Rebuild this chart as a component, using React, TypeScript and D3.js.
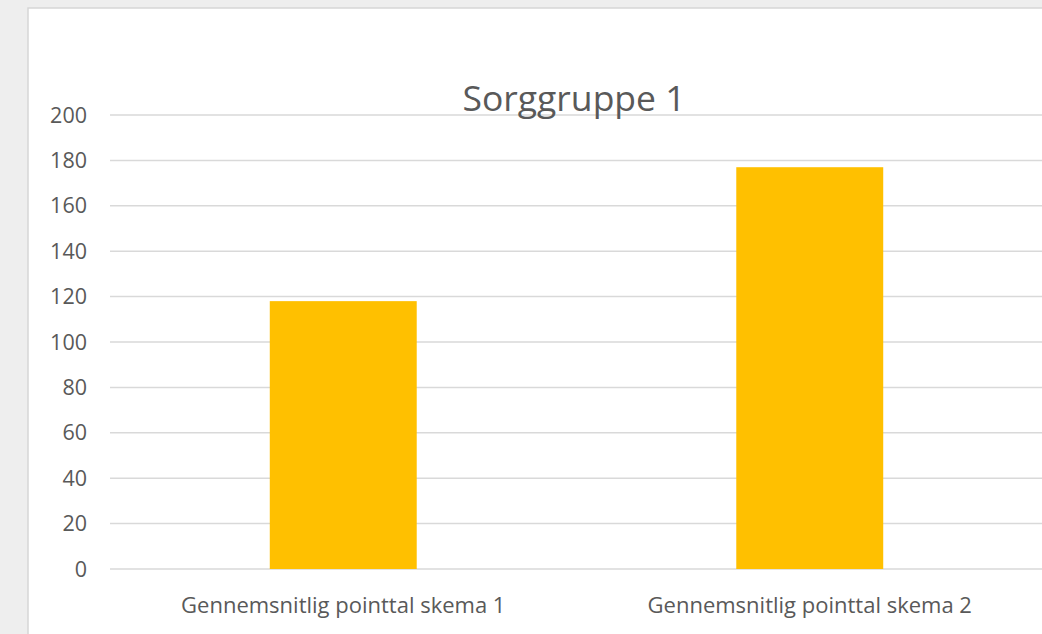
import React, { useRef, useEffect } from 'react';
import * as d3 from 'd3';

const categories = ['Gennemsnitlig pointtal skema 1', 'Gennemsnitlig pointtal skema 2'];
const values = [118, 177];
const yTicks = [0, 20, 40, 60, 80, 100, 120, 140, 160, 180, 200];
const title = 'Sorggruppe 1';

const W = 1042;
const H = 634;
const font = '"Open Sans", "Noto Sans", sans-serif';

const App = () => {
    const ref = useRef<SVGSVGElement>(null);

    useEffect(() => {
        const svg = d3.select(ref.current);
        svg.selectAll('*').remove();

        // page background + chart panel (runs off the right and bottom edge)
        svg.append('rect').attr('width', W).attr('height', H).attr('fill', '#eeeeee');
        svg.append('rect')
            .attr('x', 28).attr('y', 8).attr('width', W + 20).attr('height', H + 20)
            .attr('fill', '#ffffff').attr('stroke', '#d6d6d6').attr('stroke-width', 1.5);

        const x = d3.scaleBand<string>()
            .domain(categories)
            .range([110, 1043])
            .paddingInner(0.685)
            .paddingOuter(0.3425);
        const y = d3.scaleLinear().domain([0, 200]).range([569, 115]);

        svg.append('g').selectAll('line')
            .data(yTicks)
            .join('line')
            .attr('x1', 110).attr('x2', W)
            .attr('y1', d => y(d)).attr('y2', d => y(d))
            .attr('stroke', '#d9d9d9').attr('stroke-width', 1.5);

        svg.append('g').selectAll('text')
            .data(yTicks)
            .join('text')
            .attr('x', 87)
            .attr('y', d => y(d))
            .attr('dy', '0.35em')
            .attr('text-anchor', 'end')
            .attr('font-family', font)
            .attr('font-size', 21.5)
            .attr('fill', '#595959')
            .text(d => d);

        svg.append('g').selectAll('rect')
            .data(values)
            .join('rect')
            .attr('x', (d, i) => x(categories[i]))
            .attr('width', x.bandwidth())
            .attr('y', d => y(d))
            .attr('height', d => y(0) - y(d))
            .attr('fill', '#ffc000');

        svg.append('g').selectAll('text')
            .data(categories)
            .join('text')
            .attr('x', d => x(d) + x.bandwidth() / 2)
            .attr('y', 613)
            .attr('text-anchor', 'middle')
            .attr('font-family', font)
            .attr('font-size', 22)
            .attr('fill', '#595959')
            .text(d => d);

        svg.append('text')
            .attr('x', 574)
            .attr('y', 111)
            .attr('text-anchor', 'middle')
            .attr('font-family', font)
            .attr('font-size', 35.5)
            .attr('fill', '#595959')
            .text(title);
    }, []);

    return <svg ref={ref} width={W} height={H} style={{ position: 'absolute', left: 0, top: 0 }}></svg>;
};

export default App;
